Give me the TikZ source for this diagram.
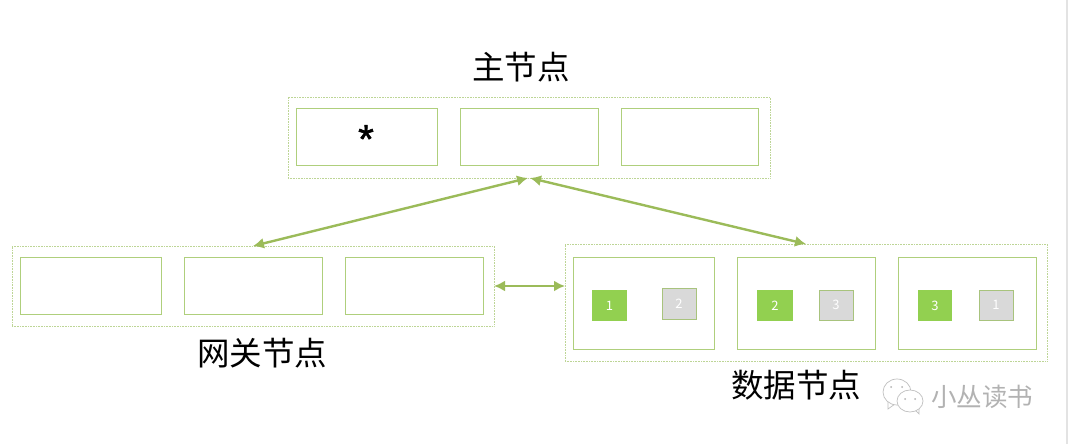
\documentclass[tikz,border=0pt]{standalone}
\usepackage{fontspec}
\setmainfont{Noto Sans CJK SC}
\newfontfamily\latinf{Liberation Sans}[FakeBold=1.5]
\newfontfamily\titlef{Noto Sans CJK SC Medium}
\usetikzlibrary{arrows.meta}
\definecolor{linegreen}{HTML}{AFCF7C}
\definecolor{dotgreen}{HTML}{BDD596}
\definecolor{arrowgreen}{HTML}{9BBB59}
\definecolor{fillgreen}{HTML}{92D050}
\definecolor{fillgray}{HTML}{D9D9D9}
\tikzset{
  outerbox/.style={draw=dotgreen,line width=1pt,dash pattern=on .8pt off .8pt,inner sep=0pt,outer sep=0pt},
  innerbox/.style={draw=linegreen,line width=.9pt,inner sep=0pt,outer sep=0pt},
  greenbox/.style={fill=fillgreen,draw=none,inner sep=0pt,outer sep=0pt,text=white,font=\fontsize{13}{13}\selectfont},
  graybox/.style={fill=fillgray,draw=linegreen!85!gray,line width=1pt,inner sep=0pt,outer sep=0pt,text=white,font=\fontsize{13}{13}\selectfont},
  title/.style={font=\fontsize{32.5}{33}\selectfont,text=black,inner sep=0pt},
  link/.style={draw=arrowgreen,line width=2.4pt,{Latex[length=11pt,width=11pt]}-{Latex[length=11pt,width=11pt]}},
  bubble/.style={draw=gray!50,line width=.7pt,fill=white},
  eye/.style={fill=gray!60,draw=none},
}
\newcommand{\bx}[7][]{%
  \pgfmathsetlengthmacro{\bw}{(#5-#3)*1pt}%
  \pgfmathsetlengthmacro{\bh}{(#6-#4)*1pt}%
  \node[#2,minimum width=\bw,minimum height=\bh,#1] (#7) at ({(#3+#5)/2},{(#4+#6)/2}) {\boxtext};%
}
\newcommand{\boxtext}{}
\begin{document}
\begin{tikzpicture}[x=1pt,y=-1pt]
\useasboundingbox (0,0) rectangle (1068,444);
\fill[gray!22] (1066,0) rectangle (1068,444);
% top group
\bx{outerbox}{288}{97}{770}{178}{top}
\bx{innerbox}{296}{108}{437}{165}{topa}
\bx{innerbox}{460}{108}{598}{165}{topb}
\bx{innerbox}{621}{108}{758}{165}{topc}
\node[font=\latinf\fontsize{40}{40}\selectfont,inner sep=0pt] (star) at (366,139) {*};
\node[title] (toplabel) at (521,67) {主节点};
% left group
\bx{outerbox}{12}{246}{494}{326}{left}
\bx{innerbox}{20}{257}{161}{314}{lefta}
\bx{innerbox}{184}{257}{322}{314}{leftb}
\bx{innerbox}{345}{257}{483}{314}{leftc}
\node[title] (leftlabel) at (262,353) {网关节点};
% right group
\bx{outerbox}{565}{244}{1047}{361}{right}
\bx{innerbox}{573}{257}{714}{349}{righta}
\bx{innerbox}{737}{257}{875}{349}{rightb}
\bx{innerbox}{898}{257}{1036}{349}{rightc}
\node[title] (rightlabel) at (796,385) {数据节点};
% replicas
\renewcommand{\boxtext}{1}\bx{greenbox}{592}{290}{627}{321}{ga}
\renewcommand{\boxtext}{2}\bx{graybox}{662}{288}{696}{319}{sa}
\renewcommand{\boxtext}{2}\bx{greenbox}{757}{290}{793}{321}{gb}
\renewcommand{\boxtext}{3}\bx{graybox}{819}{290}{853}{320}{sb}
\renewcommand{\boxtext}{3}\bx{greenbox}{918}{290}{952}{321}{gc}
\renewcommand{\boxtext}{1}\bx{graybox}{979}{290}{1013}{320}{sc}
% connectors
\draw[link] (left.north) -- ([xshift=-1pt]top.south);
\draw[link] (right.north) -- ([xshift=1pt]top.south);
\coordinate (rightport) at (right.west |- left.east);
\draw[link] (left.east) -- (rightport);
% watermark
\draw[bubble] (888,401) -- (888,409) -- (895,404);
\draw[bubble] (897,392) ellipse (14pt and 13pt);
\draw[bubble] (914,409) -- (919,414) -- (919,408);
\draw[bubble] (910,401) ellipse (13pt and 11pt);
\fill[eye] (891,387) circle (1pt) (902,387) circle (1pt);
\fill[eye] (905,399) circle (1pt) (915,399) circle (1pt);
\node[font=\fontsize{25.5}{26}\selectfont,text=gray!60,inner sep=0pt] (mark) at (982,397) {小丛读书};
\end{tikzpicture}
\end{document}
